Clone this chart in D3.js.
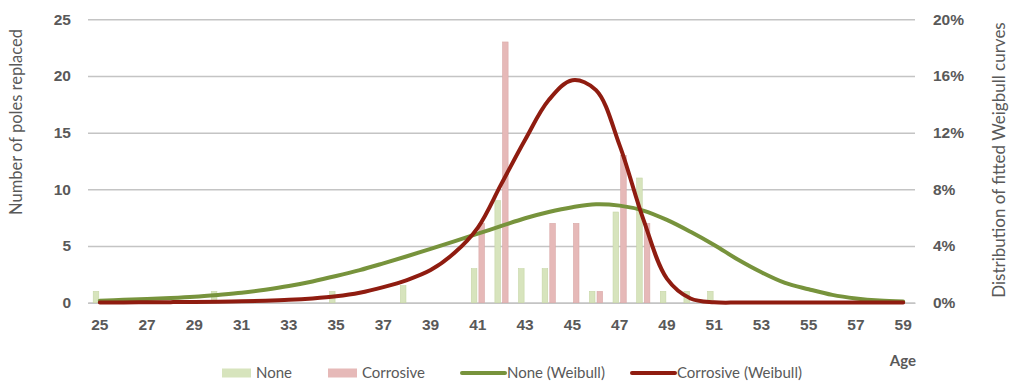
<!DOCTYPE html>
<html>
<head>
<meta charset="utf-8">
<script src="https://cdn.jsdelivr.net/npm/d3@7"></script>
<style>
  html, body { margin: 0; padding: 0; background: #fff; }
  svg { display: block; font-family: Lato, "Open Sans", sans-serif; }
  .tick text { fill: #595959; font-weight: bold; font-size: 15.5px; }
</style>
</head>
<body>
<svg id="chart" width="1011" height="381"></svg>
<script>
// ages (categories)
const ages = [25,26,27,28,29,30,31,32,33,34,35,36,37,38,39,40,41,42,43,44,45,46,47,48,49,50,51,52,53,54,55,56,57,58,59];
// poles replaced per age
const noneCounts =      [1,0,0,0,0,1,0,0,0,0,1,0,0,1.5,0,0,3,9,3,3,0,1,8,11,1,1,1,0,0,0,0,0,0,0,0];
const corrosiveCounts = [0,0,0,0,0,0,0,0,0,0,0,0,0,0,0,0,7,23,0,7,7,1,13,7,0,0,0,0,0,0,0,0,0,0,0];
// fitted Weibull distributions (%)
const noneWeibull = [0.14,0.2,0.26,0.33,0.42,0.55,0.7,0.92,1.18,1.5,1.88,2.3,2.78,3.28,3.8,4.33,4.87,5.42,5.96,6.4,6.74,6.95,6.85,6.5,5.84,5.0,4.07,3.05,2.15,1.4,0.95,0.55,0.3,0.15,0.08];
const corrosiveWeibull = [0.02,0.02,0.03,0.04,0.05,0.07,0.1,0.14,0.2,0.3,0.45,0.7,1.1,1.6,2.3,3.5,5.3,8.4,11.5,14.3,15.7,15.0,11.1,5.9,1.7,0.3,0.03,0.01,0.01,0.01,0.01,0.01,0.01,0.01,0.01];

const leftTicks = [0,5,10,15,20,25];
const rightTicks = [0,4,8,12,16,20];
const xTicks = [25,27,29,31,33,35,37,39,41,43,45,47,49,51,53,55,57,59];

const margin = {top: 19.3, right: 96, bottom: 78.3, left: 88};
const width = 1011, height = 381;
const svg = d3.select('#chart');

const x = d3.scaleBand()
    .domain(ages)
    .range([margin.left, width - margin.right]);

const x1 = d3.scaleBand()
    .domain(['None', 'Corrosive'])
    .range([-6.6, 6.6])
    .paddingInner(0.27);

const y = d3.scaleLinear()
    .domain([0, 25])
    .range([height - margin.bottom, margin.top]);

const y2 = d3.scaleLinear()
    .domain([0, 20])
    .range([height - margin.bottom, margin.top]);

// gridlines + left axis
svg.append('g')
    .attr('transform', `translate(${margin.left},0)`)
    .call(d3.axisLeft(y).tickValues(leftTicks).tickSize(-(width - margin.left - margin.right)).tickPadding(17))
    .call(g => g.select('.domain').remove())
    .call(g => g.selectAll('.tick line').attr('stroke', '#c4c4c4').attr('stroke-width', 1.5));

// right axis
svg.append('g')
    .attr('transform', `translate(${width - margin.right},0)`)
    .call(d3.axisRight(y2).tickValues(rightTicks).tickSize(0).tickPadding(18).tickFormat(d => d + '%'))
    .call(g => g.select('.domain').remove());

// x axis
svg.append('g')
    .attr('transform', `translate(0,${height - margin.bottom})`)
    .call(d3.axisBottom(x).tickValues(xTicks).tickSize(0).tickPadding(16))
    .call(g => g.select('.domain').attr('stroke', '#c4c4c4').attr('stroke-width', 1.5));

const rows = ages.map((a, i) => ({age: a, None: noneCounts[i], Corrosive: corrosiveCounts[i]}));
const barColor = {None: '#d7e4bd', Corrosive: '#e6b9b8'};
const barStroke = {None: '#c6d6a6', Corrosive: '#d9a9a8'};

svg.append('g')
    .selectAll('g')
    .data(rows)
    .join('g')
    .attr('transform', d => `translate(${x(d.age) + x.bandwidth() / 2},0)`)
    .selectAll('rect')
    .data(d => ['None', 'Corrosive'].map(k => ({key: k, value: d[k]})).filter(d => d.value > 0))
    .join('rect')
    .attr('x', d => x1(d.key))
    .attr('width', x1.bandwidth())
    .attr('y', d => y(d.value))
    .attr('height', d => y(0) - y(d.value))
    .attr('fill', d => barColor[d.key])
    .attr('stroke', d => barStroke[d.key])
    .attr('stroke-width', 0.6);

const line = vals => d3.line()
    .x((d, i) => x(ages[i]) + x.bandwidth() / 2)
    .y(d => y2(d))
    .curve(d3.curveCatmullRom.alpha(0.5))(vals);

svg.append('path')
    .attr('d', line(noneWeibull))
    .attr('fill', 'none')
    .attr('stroke', '#77933c')
    .attr('stroke-width', 4)
    .attr('stroke-linecap', 'round');

svg.append('path')
    .attr('d', line(corrosiveWeibull))
    .attr('fill', 'none')
    .attr('stroke', '#8f1c10')
    .attr('stroke-width', 4)
    .attr('stroke-linecap', 'round');

// axis titles
svg.append('text')
    .attr('transform', 'translate(22,122) rotate(-90)')
    .attr('text-anchor', 'middle')
    .attr('fill', '#595959')
    .attr('font-size', 16.5)
    .text('Number of poles replaced');

svg.append('text')
    .attr('transform', 'translate(1005,160) rotate(-90)')
    .attr('text-anchor', 'middle')
    .attr('fill', '#595959')
    .attr('font-size', 17)
    .text('Distribution of fitted Weigbull curves');

svg.append('text')
    .attr('x', 916).attr('y', 366)
    .attr('text-anchor', 'end')
    .attr('fill', '#595959')
    .attr('font-size', 15)
    .attr('font-weight', 'bold')
    .text('Age');

// legend
const legend = [
    {label: 'None', type: 'bar', color: '#d7e4bd', x: 222},
    {label: 'Corrosive', type: 'bar', color: '#e6b9b8', x: 328},
    {label: 'None (Weibull)', type: 'line', color: '#77933c', x: 462},
    {label: 'Corrosive (Weibull)', type: 'line', color: '#8f1c10', x: 632}
];
const lg = svg.append('g').selectAll('g').data(legend).join('g')
    .attr('transform', d => `translate(${d.x},373)`);
lg.filter(d => d.type === 'bar').append('rect')
    .attr('x', 0).attr('y', -4.5).attr('width', 29).attr('height', 9)
    .attr('fill', d => d.color);
lg.filter(d => d.type === 'line').append('line')
    .attr('x1', 0).attr('x2', 43).attr('stroke', d => d.color)
    .attr('stroke-width', 4).attr('stroke-linecap', 'round');
lg.append('text')
    .attr('x', d => d.type === 'bar' ? 34 : 45)
    .attr('dy', '0.35em')
    .attr('fill', '#595959')
    .attr('font-size', 15)
    .text(d => d.label);
</script>
</body>
</html>
